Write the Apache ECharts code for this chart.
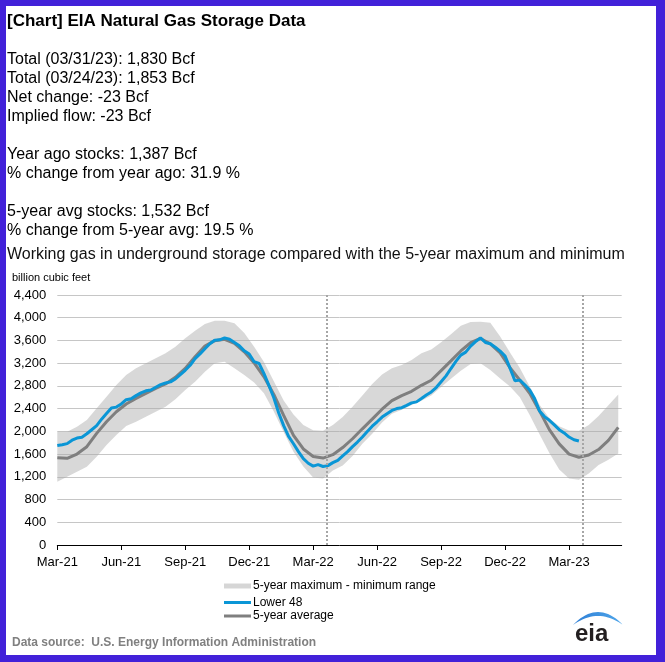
<!DOCTYPE html>
<html lang="en">
<head>
<meta charset="UTF-8">
<title>EIA Natural Gas Storage Data</title>
<script src="https://cdn.jsdelivr.net/npm/echarts@6/dist/echarts.min.js"></script>
<style>
    * {padding: 0; margin: 0;}
    body {width: 665px; height: 662px; background: #fff; overflow: hidden;}
    #main {position: absolute; left: 0; top: 0; width: 665px; height: 662px;}
    #frame {position: absolute; left: 0; top: 0; width: 665px; height: 662px; box-sizing: border-box;
            border: solid #4221d9; border-width: 6px 9px 7px 6px; pointer-events: none;}
</style>
</head>
<body>
<div id="main"></div>
<div id="frame"></div>
<script>
// x is counted in weeks from the week ending 03/19/21
const tickWeeks = [0, 13, 26, 39, 52, 65, 78, 91, 104];
const tickLabels = ['Mar-21', 'Jun-21', 'Sep-21', 'Dec-21', 'Mar-22', 'Jun-22', 'Sep-22', 'Dec-22', 'Mar-23'];

// Lower 48 working gas, one value per week (Bcf)
const lower48 = [
    1750, 1764, 1784, 1845, 1883, 1898, 1958, 2029, 2100, 2215,
    2313, 2411, 2427, 2482, 2558, 2574, 2629, 2678, 2714, 2727,
    2776, 2822, 2851, 2871, 2923, 2999, 3075, 3163, 3281, 3363,
    3455, 3542, 3605, 3611, 3644, 3622, 3564, 3505, 3417, 3362,
    3226, 3195, 3016, 2810, 2591, 2323, 2101, 1911, 1782, 1643,
    1519, 1439, 1388, 1415, 1382, 1397, 1450, 1490, 1567, 1643,
    1732, 1812, 1902, 1999, 2091, 2169, 2251, 2311, 2369, 2401,
    2416, 2457, 2501, 2519, 2579, 2640, 2694, 2771, 2874, 2977,
    3106, 3231, 3342, 3394, 3501, 3580, 3644, 3564, 3543, 3482,
    3412, 3325, 3112, 2891, 2902, 2820, 2729, 2577, 2360, 2260,
    2195, 2114, 2030, 1972, 1900, 1853, 1830
];

// 5-year statistics, one value every 2 weeks (Bcf)
const avg5 = [
    1537, 1525, 1601, 1730, 1965, 2170, 2346, 2482, 2581, 2669,
    2757, 2834, 2951, 3109, 3314, 3502, 3596, 3620, 3550, 3400,
    3205, 2960, 2650, 2280, 1930, 1690, 1558, 1530, 1590, 1715,
    1870, 2045, 2215, 2390, 2540, 2630, 2705, 2810, 2900, 3070,
    3240, 3415, 3560, 3635, 3540, 3380, 3120, 2900, 2670, 2360,
    2030, 1780, 1600, 1545, 1585, 1680, 1840, 2070
];
const max5 = [
    1995, 1995, 2082, 2200, 2405, 2611, 2816, 2992, 3109, 3197,
    3285, 3374, 3491, 3638, 3772, 3890, 3948, 3948, 3902, 3730,
    3490, 3220, 2880, 2545, 2295, 2110, 2020, 2010, 2110, 2255,
    2435, 2630, 2835, 3000, 3110, 3170, 3256, 3374, 3440, 3570,
    3710, 3860, 3925, 3930, 3910, 3670, 3390, 3115, 2790, 2470,
    2230, 2090, 2015, 2010, 2110, 2270, 2460, 2650
];
const min5 = [
    1114, 1202, 1290, 1378, 1554, 1760, 1936, 2094, 2170, 2258,
    2346, 2434, 2564, 2728, 2874, 3050, 3197, 3226, 3109, 2990,
    2860, 2670, 2350, 1990, 1640, 1380, 1190, 1170, 1310, 1400,
    1565, 1780, 1960, 2155, 2310, 2380, 2465, 2540, 2630, 2780,
    2925, 3065, 3185, 3197, 3080, 2930, 2790, 2600, 2290, 1950,
    1620, 1330, 1170, 1150, 1260, 1410, 1500, 1610
];

// report weeks marked with dotted lines
const markerWeeks = [54.86, 106.86];

const headerLines = [
    'Total (03/31/23): 1,830 Bcf',
    'Total (03/24/23): 1,853 Bcf',
    'Net change: -23 Bcf',
    'Implied flow: -23 Bcf',
    '',
    'Year ago stocks: 1,387 Bcf',
    '% change from year ago: 31.9 %',
    '',
    '5-year avg stocks: 1,532 Bcf',
    '% change from 5-year avg: 19.5 %'
];

const FONT = "'Liberation Sans', Arial, sans-serif";
const chart = echarts.init(document.getElementById('main'));

const weekly = (step, arr) => arr.map((v, i) => [i * step, v]);
const bandData = min5.map((v, i) => [i * 2, v, max5[i]]);

// eia logo swoosh: a thin crescent
function swoosh(x0, y0, w, outer, inner) {
    let pts = [];
    for (let k = 0; k <= 20; k++) {
        let t = k / 20;
        pts.push([x0 + w * t, y0 - 4 * outer * t * (1 - t)]);
    }
    for (let k = 20; k >= 0; k--) {
        let t = k / 20;
        pts.push([x0 + w * t, y0 - 4 * inner * t * (1 - t)]);
    }
    return pts;
}

let texts = [{
    type: 'text', x: 7, y: 12.5,
    style: {text: '[Chart] EIA Natural Gas Storage Data', font: 'bold 17px ' + FONT, fill: '#000'}
}];
headerLines.forEach(function(line, i) {
    if (!line) return;
    texts.push({
        type: 'text', x: 7, y: 51.5 + i * 19,
        style: {text: line, font: '16px ' + FONT, fill: '#000'}
    });
});
texts.push(
    {type: 'text', x: 7, y: 246.5, style: {text: 'Working gas in underground storage compared with the 5-year maximum and minimum', font: '16px ' + FONT, fill: '#111'}},
    {type: 'text', x: 12, y: 272, style: {text: 'billion cubic feet', font: '11px ' + FONT, fill: '#000'}},
    {type: 'text', x: 12, y: 636.5, style: {text: 'Data source:  U.S. Energy Information Administration', font: 'bold 12px ' + FONT, fill: '#808080'}},
    {type: 'text', x: 575, y: 622, style: {text: 'eia', font: 'bold 24px ' + FONT, fill: '#231f20'}},
    {
        type: 'polygon',
        shape: {points: swoosh(573, 625, 50, 13, 9)},
        style: {fill: new echarts.graphic.LinearGradient(0, 0, 1, 0, [
            {offset: 0, color: '#2f7fd6'}, {offset: 1, color: '#4fa6ea'}
        ])}
    }
);

const legendText = {fontSize: 12, color: '#000', fontFamily: FONT, padding: [0, 0, 0, -3]};

chart.setOption({
    animation: false,
    textStyle: {fontFamily: FONT},
    graphic: texts,
    grid: {left: 57.3, right: 43.3, top: 295, bottom: 117},
    legend: [{
        orient: 'vertical', left: 219, top: 575, itemWidth: 27, itemHeight: 5,
        icon: 'rect', textStyle: legendText,
        data: ['5-year maximum - minimum range']
    }, {
        orient: 'vertical', left: 219, top: 591.5, itemWidth: 27, itemHeight: 3, itemGap: 1.5,
        icon: 'rect', textStyle: legendText,
        data: ['Lower 48', '5-year average']
    }],
    xAxis: {
        type: 'value', min: 0, max: 114.7,
        axisLine: {lineStyle: {color: '#000', width: 1}},
        axisTick: {show: true, customValues: tickWeeks, length: 5, lineStyle: {color: '#000'}},
        axisLabel: {
            customValues: tickWeeks, margin: 11, fontSize: 13, color: '#000',
            formatter: v => tickLabels[tickWeeks.indexOf(v)] || ''
        },
        splitLine: {show: false}
    },
    yAxis: {
        type: 'value', min: 0, max: 4400, interval: 400,
        axisLine: {show: false}, axisTick: {show: false},
        axisLabel: {margin: 11, fontSize: 13, color: '#000', formatter: v => v.toLocaleString('en-US')},
        splitLine: {lineStyle: {color: '#c6c6c6', width: 1}}
    },
    series: [
        {
            name: '5-year maximum - minimum range', type: 'custom', silent: true,
            itemStyle: {color: '#d6d6d6'},
            encode: {x: 0, y: [1, 2]},
            data: bandData,
            renderItem: function(params, api) {
                if (params.dataIndex !== 0) return;
                const upper = bandData.map(d => api.coord([d[0], d[2]]));
                const lower = bandData.map(d => api.coord([d[0], d[1]])).reverse();
                return {
                    type: 'polygon',
                    shape: {points: upper.concat(lower)},
                    style: {fill: 'rgba(168,168,168,0.45)'}
                };
            }
        },
        {
            name: '5-year average', type: 'line', symbol: 'none', data: weekly(2, avg5),
            lineStyle: {color: '#7f7f7f', width: 3}, itemStyle: {color: '#7f7f7f'},
            markLine: {
                silent: true, symbol: ['none', 'none'], label: {show: false},
                lineStyle: {color: '#a6a6a6', type: [2, 2], width: 2},
                data: markerWeeks.map(w => ({xAxis: w}))
            }
        },
        {
            name: 'Lower 48', type: 'line', symbol: 'none', data: weekly(1, lower48),
            lineStyle: {color: '#0a96d6', width: 3}, itemStyle: {color: '#0a96d6'}
        }
    ]
});
</script>
</body>
</html>
